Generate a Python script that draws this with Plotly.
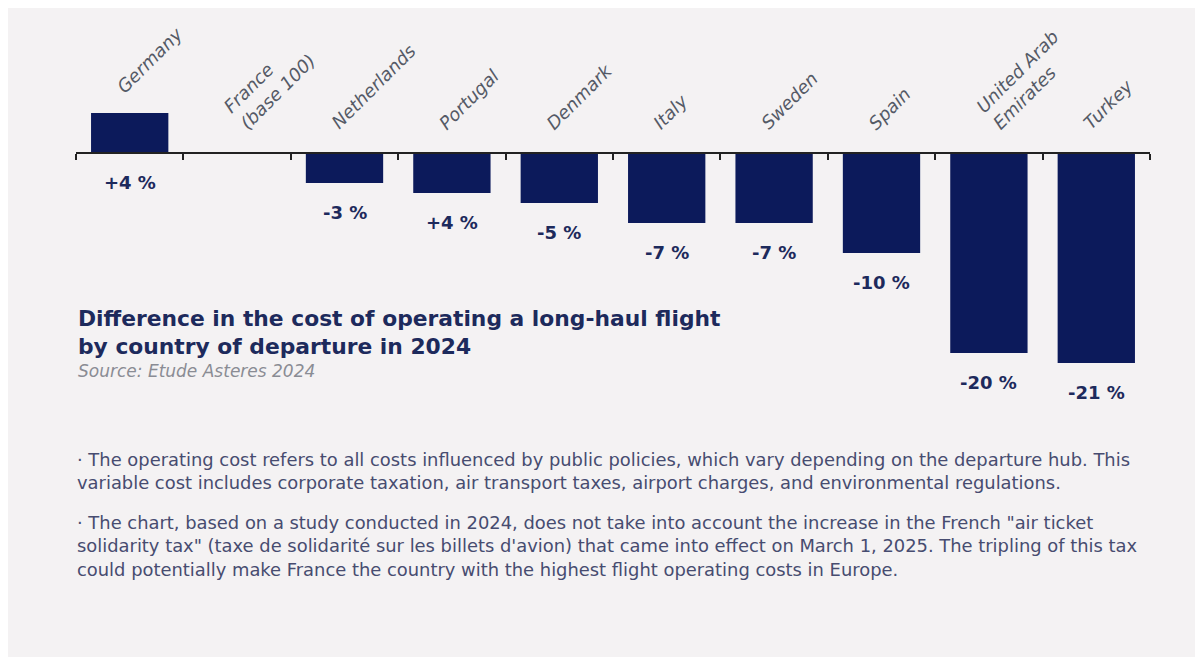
import plotly.graph_objects as go

# data
countries = ["Germany", "France<br>(base 100)", "Netherlands", "Portugal", "Denmark",
             "Italy", "Sweden", "Spain", "United Arab<br>Emirates", "Turkey"]
values = [4, 0, -3, -4, -5, -7, -7, -10, -20, -21]
value_labels = ["+4 %", "", "-3 %", "+4 %", "-5 %", "-7 %", "-7 %", "-10 %", "-20 %", "-21 %"]

title_text = ("<b>Difference in the cost of operating a long-haul flight<br>"
              "by country of departure in 2024</b>")
source_text = "<i>Source: Etude Asteres 2024</i>"
note_1 = ("· The operating cost refers to all costs influenced by public policies, which vary depending on the departure hub. This<br>"
          "variable cost includes corporate taxation, air transport taxes, airport charges, and environmental regulations.")
note_2 = ("· The chart, based on a study conducted in 2024, does not take into account the increase in the French \"air ticket<br>"
          "solidarity tax\" (taxe de solidarité sur les billets d'avion) that came into effect on March 1, 2025. The tripling of this tax<br>"
          "could potentially make France the country with the highest flight operating costs in Europe.")

NAVY = "#0c1a5b"
TEXT_NAVY = "#1d2a5c"
GREY = "#555a66"
NOTE = "#474c70"
PANEL = "#f4f2f3"
WIDE = "DejaVu Sans"

# page body has an 8px margin, so figure pixels = page pixels - 8
W, H = 1195, 649
ML, MR, MT, MB = 68, 53, 0, 0
Y_RANGE = [-50.4, 14.5]

x = list(range(len(countries)))

fig = go.Figure()
fig.add_trace(go.Bar(
    x=x, y=values,
    width=0.72,
    marker=dict(color=NAVY, line=dict(width=0)),
    hoverinfo="skip",
    showlegend=False,
))

# value labels below the bars
for i, (v, lab) in enumerate(zip(values, value_labels)):
    if lab:
        fig.add_annotation(
            x=i, y=min(v, 0), text=f"<b>{lab}</b>",
            showarrow=False, yanchor="top", xanchor="center", yshift=-17,
            font=dict(family=WIDE, size=18, color=TEXT_NAVY),
        )

# rotated category labels above the bars
for i, (v, name) in enumerate(zip(values, countries)):
    fig.add_annotation(
        x=i, y=max(v, 0), text=f"<i>{name}</i>",
        showarrow=False, textangle=-45, align="left",
        xanchor="left", yanchor="bottom", xshift=-20,
        yshift=13 if v > 0 else 17,
        font=dict(family=WIDE, size=18, color=GREY),
    )

pw = W - ML - MR
ph = H - MT - MB


def px_x(p):
    return (p - ML) / pw


def px_y(p):
    return 1 - (p - MT) / ph


fig.add_annotation(xref="paper", yref="paper", x=px_x(68), y=px_y(296),
                   xanchor="left", yanchor="top", align="left", showarrow=False,
                   text=title_text, font=dict(family=WIDE, size=21.8, color=TEXT_NAVY))
fig.add_annotation(xref="paper", yref="paper", x=px_x(68), y=px_y(351),
                   xanchor="left", yanchor="top", align="left", showarrow=False,
                   text=source_text, font=dict(family=WIDE, size=17, color="#8a8c94"))
fig.add_annotation(xref="paper", yref="paper", x=px_x(67), y=px_y(439),
                   xanchor="left", yanchor="top", align="left", showarrow=False,
                   text=note_1, font=dict(family=WIDE, size=17.9, color=NOTE))
fig.add_annotation(xref="paper", yref="paper", x=px_x(67), y=px_y(502),
                   xanchor="left", yanchor="top", align="left", showarrow=False,
                   text=note_2, font=dict(family=WIDE, size=17.9, color=NOTE))

zero_pos = (0 - Y_RANGE[0]) / (Y_RANGE[1] - Y_RANGE[0])

fig.update_layout(
    width=W, height=H,
    margin=dict(l=ML, r=MR, t=MT, b=MB),
    paper_bgcolor=PANEL,
    plot_bgcolor="rgba(0,0,0,0)",
    xaxis=dict(
        range=[-0.5, len(countries) - 0.5],
        anchor="free", position=zero_pos,
        showline=True, linecolor="#222222", linewidth=1.5,
        ticks="outside", ticklen=6, tickwidth=1.5, tickcolor="#222222",
        tickmode="array", tickvals=[i - 0.5 for i in range(len(countries) + 1)],
        showticklabels=False, showgrid=False, zeroline=False,
    ),
    yaxis=dict(range=Y_RANGE, visible=False, showgrid=False, zeroline=False),
)

fig.write_html("out.html")
